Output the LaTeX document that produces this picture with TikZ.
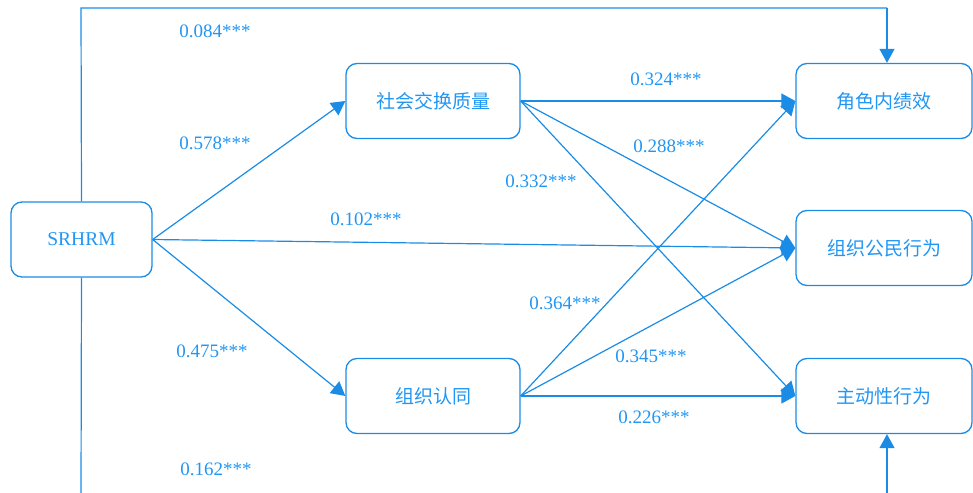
\documentclass[tikz,border=0pt]{standalone}
\usepackage{fontspec}
\setmainfont{Liberation Serif}
\newfontfamily\cjk{Noto Sans CJK SC}
\usetikzlibrary{arrows.meta}
\definecolor{lineblue}{HTML}{1A8CE6}
\definecolor{textblue}{HTML}{2196F3}
\begin{document}
\begin{tikzpicture}[x=1pt,y=-1pt,
  box/.style={draw=lineblue,line width=1.3pt,rounded corners=11pt,minimum height=75pt,text=textblue,font=\fontsize{19}{22}\selectfont\cjk},
  conn/.style={draw=lineblue,line width=1.2pt,-{Triangle[length=14pt,width=15pt]}},
  plain/.style={draw=lineblue,line width=1.2pt},
  lab/.style={text=textblue,font=\fontsize{19}{22}\selectfont}]
\useasboundingbox (0,0) rectangle (973,492);
\node[box,minimum width=141pt,font=\fontsize{19.5}{22}\selectfont\rmfamily] (srhrm) at (81.5,239.5) {SRHRM};
\node[box,minimum width=174pt] (sx) at (433,101) {社会交换质量};
\node[box,minimum width=174pt] (zr) at (433,396) {组织认同};
\node[box,minimum width=176pt] (js) at (884,101) {角色内绩效};
\node[box,minimum width=176pt] (gm) at (884,248) {组织公民行为};
\node[box,minimum width=176pt] (zd) at (884,396) {主动性行为};
\coordinate (t1) at (81,8);
\coordinate (t2) at (887,8);
\coordinate (b1) at (81,495);
\coordinate (b2) at (887,495);
\draw[plain] (srhrm.north) -- (t1) -- (t2);
\draw[conn] (t2) -- (t2 |- js.north);
\draw[plain] (srhrm.south) -- (b1);
\draw[conn] (b2) -- (b2 |- zd.south);
\draw[conn] (srhrm.east) -- (sx.west);
\draw[conn] (srhrm.east) -- (zr.west);
\draw[conn] (srhrm.east) -- (gm.west);
\draw[conn] (sx.east) -- (js.west);
\draw[conn] (sx.east) -- (gm.west);
\draw[conn] (sx.east) -- (zd.west);
\draw[conn] (zr.east) -- (js.west);
\draw[conn] (zr.east) -- (gm.west);
\draw[conn] (zr.east) -- (zd.west);
\node[lab] (l1) at (215,31) {0.084***};
\node[lab] (l2) at (215,143) {0.578***};
\node[lab] (l3) at (366,219) {0.102***};
\node[lab] (l4) at (212,351) {0.475***};
\node[lab] (l5) at (216,469) {0.162***};
\node[lab] (l6) at (666,79) {0.324***};
\node[lab] (l7) at (669,146) {0.288***};
\node[lab] (l8) at (541,181) {0.332***};
\node[lab] (l9) at (565,303) {0.364***};
\node[lab] (l10) at (651,356) {0.345***};
\node[lab] (l11) at (654,417) {0.226***};
\end{tikzpicture}
\end{document}
